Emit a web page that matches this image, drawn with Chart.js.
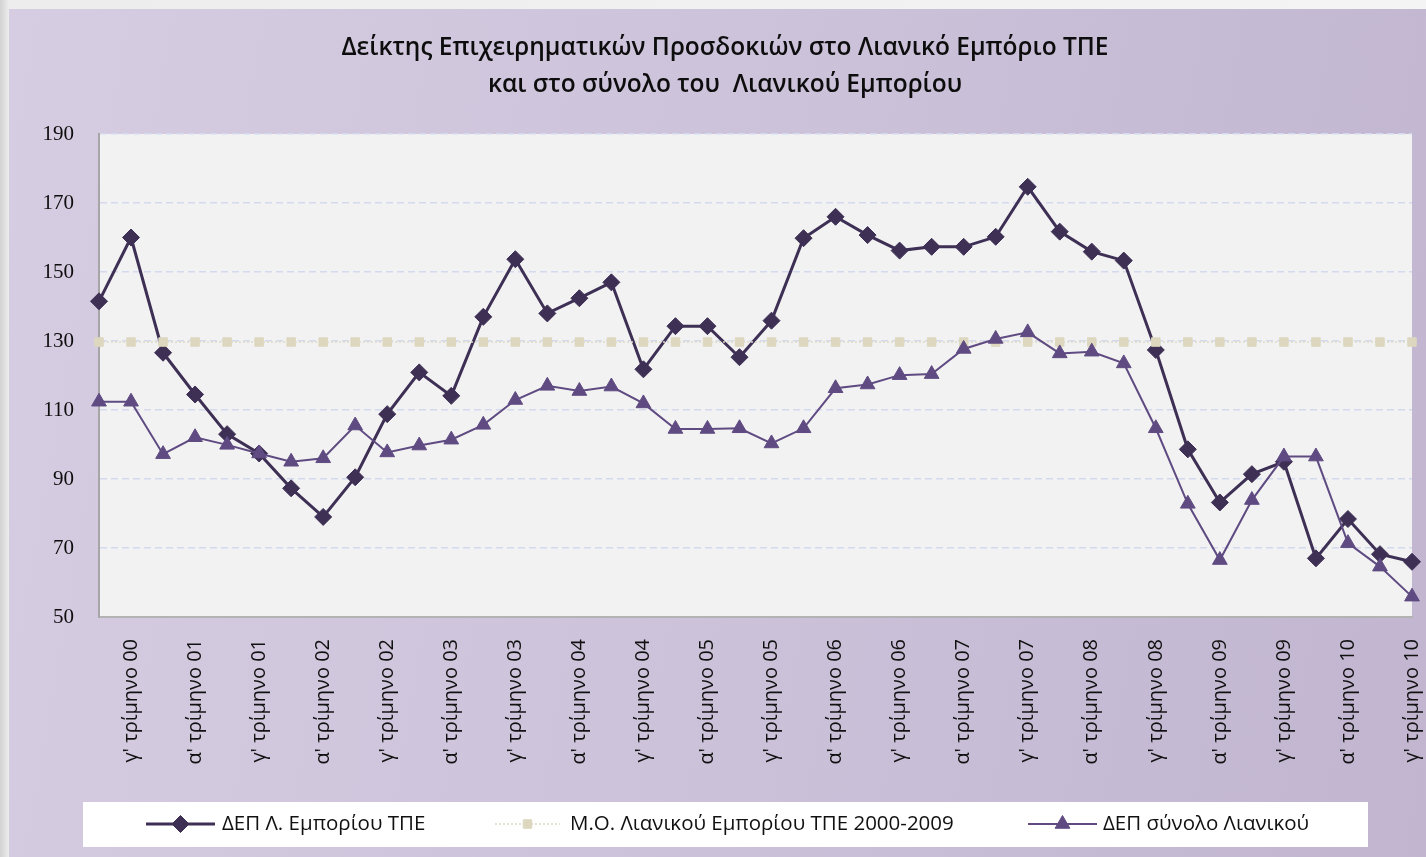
<!DOCTYPE html>
<html>
<head>
<meta charset="utf-8">
<title>ΔΕΠ Λιανικό Εμπόριο</title>
<script src="https://cdn.jsdelivr.net/npm/chart.js@4.4.0/dist/chart.umd.min.js"></script>
<style>
    html, body { margin: 0; padding: 0; }
    body { width: 1426px; height: 857px; overflow: hidden; position: relative;
           background: linear-gradient(90deg, #d2d2d2 0px, #ededed 9px, #f4f4f4 100%); }
    #panel { position: absolute; left: 9px; top: 9px; right: 0; bottom: 0;
             background: linear-gradient(100deg, #d6cde2 0%, #cbc1d9 55%, #c1b5cf 100%); }
    #chart { position: absolute; left: 0; top: 0; }
</style>
</head>
<body>
<div id="panel"></div>
<canvas id="chart" width="1426" height="857"></canvas>
<script>
// τρίμηνα: β' 2000 έως γ' 2010
const quarterLabels = [
    "β' τρίμηνο 00", "γ' τρίμηνο 00", "δ' τρίμηνο 00",
    "α' τρίμηνο 01", "β' τρίμηνο 01", "γ' τρίμηνο 01", "δ' τρίμηνο 01",
    "α' τρίμηνο 02", "β' τρίμηνο 02", "γ' τρίμηνο 02", "δ' τρίμηνο 02",
    "α' τρίμηνο 03", "β' τρίμηνο 03", "γ' τρίμηνο 03", "δ' τρίμηνο 03",
    "α' τρίμηνο 04", "β' τρίμηνο 04", "γ' τρίμηνο 04", "δ' τρίμηνο 04",
    "α' τρίμηνο 05", "β' τρίμηνο 05", "γ' τρίμηνο 05", "δ' τρίμηνο 05",
    "α' τρίμηνο 06", "β' τρίμηνο 06", "γ' τρίμηνο 06", "δ' τρίμηνο 06",
    "α' τρίμηνο 07", "β' τρίμηνο 07", "γ' τρίμηνο 07", "δ' τρίμηνο 07",
    "α' τρίμηνο 08", "β' τρίμηνο 08", "γ' τρίμηνο 08", "δ' τρίμηνο 08",
    "α' τρίμηνο 09", "β' τρίμηνο 09", "γ' τρίμηνο 09", "δ' τρίμηνο 09",
    "α' τρίμηνο 10", "β' τρίμηνο 10", "γ' τρίμηνο 10"
];

// ΔΕΠ Λ. Εμπορίου ΤΠΕ
const smeIndex = [
    141.5, 160.0, 126.6, 114.5, 103.0, 97.4, 87.3, 79.0, 90.5, 108.8, 120.9, 114.1,
    137.0, 153.7, 138.0, 142.4, 147.0, 121.8, 134.3, 134.3, 125.3, 135.9, 159.8, 166.0,
    160.7, 156.2, 157.3, 157.3, 160.2, 174.7, 161.7, 155.9, 153.3, 127.4, 98.6, 83.2,
    91.4, 95.0, 67.0, 78.4, 68.2, 66.0
];

// Μ.Ο. Λιανικού Εμπορίου ΤΠΕ 2000-2009
const smeAverage = 129.7;

// ΔΕΠ σύνολο Λιανικού
const retailTotal = [
    112.4, 112.4, 97.2, 102.1, 99.9, 97.4, 95.0, 96.0, 105.5, 97.7, 99.7, 101.4,
    105.7, 112.9, 117.0, 115.5, 116.8, 111.9, 104.5, 104.5, 104.7, 100.3, 104.7, 116.3,
    117.4, 120.1, 120.4, 127.7, 130.6, 132.5, 126.4, 126.9, 123.5, 104.7, 82.8, 66.5,
    83.9, 96.5, 96.5, 71.4, 64.6, 55.9
];

const yTicks = [50, 70, 90, 110, 130, 150, 170, 190];

const titleLines = [
    'Δείκτης Επιχειρηματικών Προσδοκιών στο Λιανικό Εμπόριο ΤΠΕ',
    'και στο σύνολο του  Λιανικού Εμπορίου'
];

const seriesNames = ['ΔΕΠ Λ. Εμπορίου ΤΠΕ', 'Μ.Ο. Λιανικού Εμπορίου ΤΠΕ 2000-2009', 'ΔΕΠ σύνολο Λιανικού'];

const plotBackground = {
    id: 'plotBackground',
    beforeDraw(chart) {
        const { ctx, chartArea } = chart;
        ctx.save();
        ctx.fillStyle = '#f2f2f2';
        ctx.fillRect(chartArea.left, chartArea.top, chartArea.right - chartArea.left, chartArea.bottom - chartArea.top);
        ctx.restore();
    }
};

const titleText = {
    id: 'titleText',
    afterDraw(chart) {
        const ctx = chart.ctx;
        ctx.save();
        ctx.fillStyle = '#0d0d0d';
        ctx.font = '600 24.5px "Open Sans", "Noto Sans", sans-serif';
        ctx.textAlign = 'center';
        ctx.textBaseline = 'middle';
        ctx.fillText(titleLines[0], 725, 48);
        ctx.fillText(titleLines[1], 725, 85);
        ctx.restore();
    }
};

// κάθετες ετικέτες άξονα Χ (από κάτω προς τα πάνω), μία ανά δύο τρίμηνα
const verticalLabels = {
    id: 'verticalLabels',
    afterDraw(chart) {
        const { ctx, chartArea } = chart;
        const xScale = chart.scales.x;
        ctx.save();
        ctx.fillStyle = '#111111';
        ctx.font = '20px "Open Sans", "Noto Sans", sans-serif';
        ctx.textAlign = 'right';
        ctx.textBaseline = 'middle';
        quarterLabels.forEach((label, i) => {
            if (i % 2 !== 1) return;
            ctx.save();
            ctx.translate(xScale.getPixelForValue(i), chartArea.bottom + 22);
            ctx.rotate(-Math.PI / 2);
            ctx.fillText(label, 0, 0);
            ctx.restore();
        });
        ctx.restore();
    }
};

const legendBox = {
    id: 'legendBox',
    afterDraw(chart) {
        const ctx = chart.ctx;
        const y = 824;
        const items = [
            { x1: 146, x2: 215, tx: 222 },
            { x1: 495, x2: 560, tx: 570 },
            { x1: 1028, x2: 1097, tx: 1103 }
        ];
        ctx.save();
        ctx.fillStyle = '#ffffff';
        ctx.fillRect(83, 802, 1285, 45);
        chart.data.datasets.forEach((ds, i) => {
            const it = items[i];
            ctx.save();
            ctx.strokeStyle = ds.borderColor;
            ctx.lineWidth = ds.borderWidth;
            ctx.setLineDash(ds.borderDash || []);
            ctx.beginPath();
            ctx.moveTo(it.x1, y);
            ctx.lineTo(it.x2, y);
            ctx.stroke();
            ctx.restore();
            ctx.save();
            ctx.fillStyle = ds.pointBackgroundColor;
            ctx.strokeStyle = ds.pointBorderColor;
            Chart.helpers.drawPoint(ctx, {
                pointStyle: ds.pointStyle,
                radius: ds.pointRadius,
                rotation: 0,
                borderWidth: 1
            }, (it.x1 + it.x2) / 2, y);
            ctx.restore();
            ctx.fillStyle = '#111111';
            ctx.font = '20.5px "Open Sans", "Noto Sans", sans-serif';
            ctx.textAlign = 'left';
            ctx.textBaseline = 'middle';
            ctx.fillText(seriesNames[i], it.tx, y);
        });
        ctx.restore();
    }
};

new Chart(document.getElementById('chart'), {
    type: 'line',
    data: {
        labels: quarterLabels,
        datasets: [
            {
                label: seriesNames[0], data: smeIndex, order: 3,
                borderColor: '#3e3055', borderWidth: 3,
                pointStyle: 'rectRot', pointRadius: 8.5,
                pointBackgroundColor: '#3e3055', pointBorderColor: '#3e3055', pointBorderWidth: 1
            },
            {
                label: seriesNames[1], data: quarterLabels.map(() => smeAverage), order: 2,
                borderColor: '#e0dac4', borderWidth: 1.5, borderDash: [2, 2],
                pointStyle: 'rect', pointRadius: 6,
                pointBackgroundColor: '#ddd7bf', pointBorderColor: '#ddd7bf', pointBorderWidth: 1
            },
            {
                label: seriesNames[2], data: retailTotal, order: 1,
                borderColor: '#5f4b82', borderWidth: 2,
                pointStyle: 'triangle', pointRadius: 8.5,
                pointBackgroundColor: '#5f4b82', pointBorderColor: '#5f4b82', pointBorderWidth: 1
            }
        ]
    },
    options: {
        responsive: false,
        devicePixelRatio: 1,
        animation: false,
        events: [],
        layout: { padding: { left: 0, top: 134, right: 14, bottom: 0 } },
        plugins: {
            legend: { display: false },
            title: { display: false },
            tooltip: { enabled: false }
        },
        scales: {
            x: {
                offset: false,
                grid: { display: false },
                border: { display: true, color: '#b3b3b3', width: 2 },
                ticks: { display: false },
                afterFit(scale) { scale.height = 240; }
            },
            y: {
                min: 50, max: 190,
                afterBuildTicks(scale) { scale.ticks = yTicks.map(v => ({ value: v })); },
                grid: { color: '#d3daee', lineWidth: 1.5, drawTicks: false },
                border: { display: true, color: '#a6a6a6', width: 2, dash: [7, 4] },
                ticks: {
                    padding: 25,
                    color: '#0d0d0d',
                    font: { family: '"Liberation Serif", "DejaVu Serif", serif', size: 21 }
                },
                afterFit(scale) { scale.width = 99; }
            }
        }
    },
    plugins: [plotBackground, titleText, verticalLabels, legendBox]
});
</script>
</body>
</html>
